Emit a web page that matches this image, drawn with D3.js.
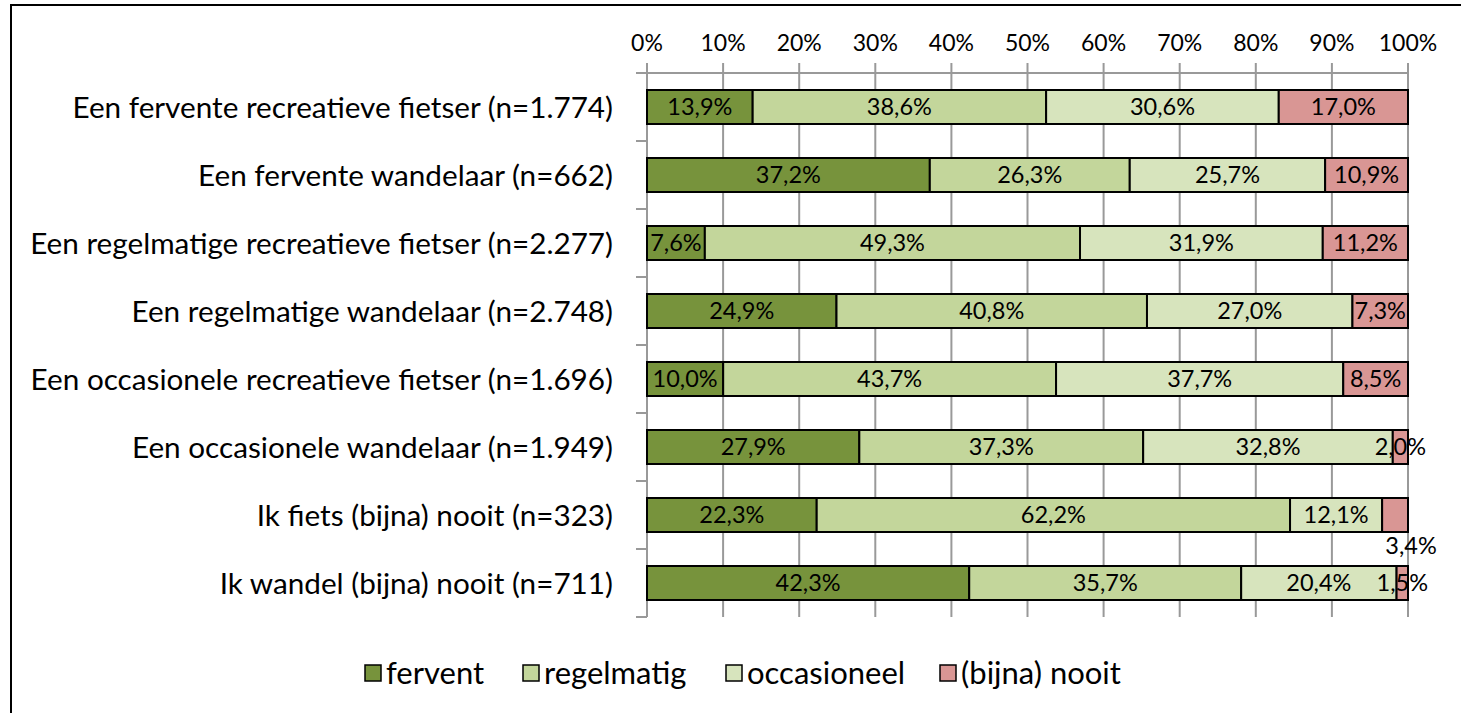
<!DOCTYPE html>
<html lang="nl">
<head>
    <meta charset="UTF-8">
    <title>Fietsers en wandelaars</title>
    <script src="https://cdn.jsdelivr.net/npm/d3@7"></script>
    <style>
        body{margin:0;background:#fff;}
        text{font-family:"Lato","Open Sans",sans-serif;fill:#000;}
    </style>
</head>
<body>
<svg></svg>
<script>
    //categories (top to bottom)
    var categories = [
        "Een fervente recreatieve fietser (n=1.774)",
        "Een fervente wandelaar (n=662)",
        "Een regelmatige recreatieve fietser (n=2.277)",
        "Een regelmatige wandelaar (n=2.748)",
        "Een occasionele recreatieve fietser (n=1.696)",
        "Een occasionele wandelaar (n=1.949)",
        "Ik fiets (bijna) nooit (n=323)",
        "Ik wandel (bijna) nooit (n=711)"
    ];
    var seriesNames = ["fervent","regelmatig","occasioneel","(bijna) nooit"];
    var fervent     = [13.9, 37.2,  7.6, 24.9, 10.0, 27.9, 22.3, 42.3];
    var regelmatig  = [38.6, 26.3, 49.3, 40.8, 43.7, 37.3, 62.2, 35.7];
    var occasioneel = [30.6, 25.7, 31.9, 27.0, 37.7, 32.8, 12.1, 20.4];
    var nooit       = [17.0, 10.9, 11.2,  7.3,  8.5,  2.0,  3.4,  1.5];
    var colors = ["#77933C","#C3D69B","#D7E4BD","#D99694"];
    var ticks = [0,10,20,30,40,50,60,70,80,90,100];

    var W = 1461, H = 713;
    var svg = d3.select("svg").attr("width",W).attr("height",H);

    //outer frame (only left and top visible)
    svg.append("rect")
        .attr("x",11).attr("y",5)
        .attr("width",W+20).attr("height",H+20)
        .attr("fill","none").attr("stroke","#000").attr("stroke-width",2);

    var x = d3.scaleLinear().domain([0,100]).range([647,1408]);
    var y = d3.scaleBand().domain(categories).range([73,617]).paddingInner(0.5).paddingOuter(0.25);

    var series = [fervent,regelmatig,occasioneel,nooit];
    var rows = categories.map(function(c,i){
        var vals = series.map(function(s){return s[i];});
        var tot = d3.sum(vals), acc = 0;
        return vals.map(function(v,k){
            var seg = {cat:c,row:i,k:k,v:v,x0:acc/tot*100,x1:(acc+v)/tot*100};
            acc += v;
            return seg;
        });
    });

    //gridlines
    svg.append("g").selectAll("line").data(ticks).enter().append("line")
        .attr("x1",function(d){return x(d);}).attr("x2",function(d){return x(d);})
        .attr("y1",63).attr("y2",617)
        .attr("stroke","#999").attr("stroke-width",2);
    //top axis line
    svg.append("line").attr("x1",x(0)).attr("x2",x(100)).attr("y1",73).attr("y2",73)
        .attr("stroke","#999").attr("stroke-width",2);
    //tick labels
    svg.append("g").selectAll("text").data(ticks).enter().append("text")
        .attr("x",function(d){return x(d);}).attr("y",51)
        .attr("text-anchor","middle").attr("font-size",23)
        .text(function(d){return d+"%";});

    //left category axis with ticks between bands
    var step = y.step();
    svg.append("line").attr("x1",x(0)).attr("x2",x(0)).attr("y1",73).attr("y2",617)
        .attr("stroke","#999").attr("stroke-width",2);
    svg.append("g").selectAll("line").data(d3.range(categories.length+1)).enter().append("line")
        .attr("x1",x(0)-11).attr("x2",x(0))
        .attr("y1",function(i){return 73+i*step;}).attr("y2",function(i){return 73+i*step;})
        .attr("stroke","#999").attr("stroke-width",2);
    svg.append("g").selectAll("text").data(categories).enter().append("text")
        .attr("x",613).attr("y",function(d){return y(d)+y.bandwidth()/2;})
        .attr("dy","0.36em").attr("text-anchor","end").attr("font-size",29.7)
        .text(function(d){return d;});

    //bars
    var segs = d3.merge(rows);
    svg.append("g").selectAll("rect").data(segs).enter().append("rect")
        .attr("x",function(d){return x(d.x0);})
        .attr("y",function(d){return y(d.cat);})
        .attr("width",function(d){return x(d.x1)-x(d.x0);})
        .attr("height",y.bandwidth())
        .attr("fill",function(d){return colors[d.k];})
        .attr("stroke","#000").attr("stroke-width",2);

    //data labels
    svg.append("g").selectAll("text").data(segs).enter().append("text")
        .attr("x",function(d){
            var cx = x((d.x0+d.x1)/2);
            if(d.k==3 && d.row==6) cx += 16;
            return cx;
        })
        .attr("y",function(d){
            var cy = y(d.cat)+y.bandwidth()/2;
            if(d.k==3 && d.row==6) cy += 31;   //label pushed below in original
            return cy;
        })
        .attr("dy","0.36em").attr("text-anchor","middle").attr("font-size",23.5)
        .text(function(d){return d.v.toFixed(1).replace(".",",")+"%";});

    //legend
    var legX = [365,523,726,940];
    var leg = svg.append("g").selectAll("g").data(seriesNames).enter().append("g")
        .attr("transform",function(d,i){return "translate("+legX[i]+",673)";});
    leg.append("rect").attr("x",0).attr("y",-8).attr("width",16).attr("height",16)
        .attr("fill",function(d,i){return colors[i];})
        .attr("stroke","#000").attr("stroke-width",1.5);
    leg.append("text").attr("x",21).attr("y",0).attr("dy","0.36em")
        .attr("font-size",31).text(function(d){return d;});
</script>
</body>
</html>
